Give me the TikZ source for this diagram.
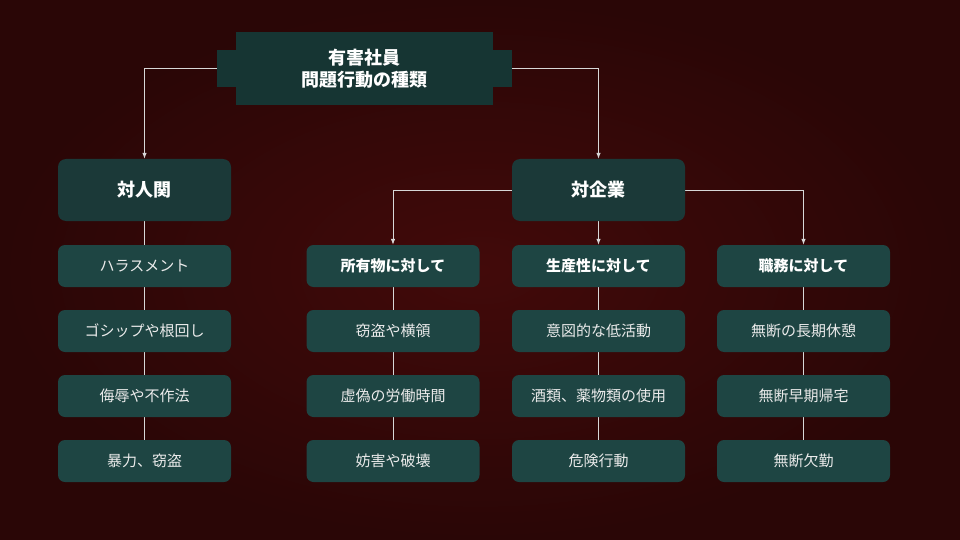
\documentclass[tikz,border=0pt]{standalone}
\usepackage{fontspec}
\setmainfont{Noto Sans CJK JP}
\usetikzlibrary{arrows.meta}
\pgfdeclarelayer{back}
\pgfdeclarelayer{wires}
\pgfsetlayers{back,wires,main}
\definecolor{wine}{RGB}{66,10,10}
\definecolor{soot}{RGB}{42,6,6}
\definecolor{tealtop}{RGB}{22,53,51}
\definecolor{tealmid}{RGB}{27,57,56}
\definecolor{tealbox}{RGB}{30,69,67}
\definecolor{linegray}{RGB}{215,215,215}
\tikzstyle{title}=[fill=tealtop, minimum width=257pt, minimum height=73pt, inner sep=0pt, align=center, text=white, font=\bfseries\fontsize{18}{22}\selectfont]
\tikzstyle{head}=[fill=tealmid, rounded corners=8pt, minimum width=173pt, minimum height=62pt, text=white, font=\bfseries\fontsize{18}{22}\selectfont]
\tikzstyle{sub}=[fill=tealbox, rounded corners=7pt, minimum width=173pt, minimum height=42pt, text=white, font=\bfseries\fontsize{15}{18}\selectfont]
\tikzstyle{item}=[fill=tealbox, rounded corners=7pt, minimum width=173pt, minimum height=42pt, text=white!92!black, font=\fontsize{15}{18}\selectfont]
\tikzstyle{wire}=[draw=linegray, line width=0.8pt]
\tikzstyle{arr}=[wire, -{Latex[length=6pt,width=4.5pt]}]

\begin{document}
\begin{tikzpicture}[x=1pt, y=-1pt]
% Backdrop
\begin{pgfonlayer}{back}
    \shade[inner color=wine, outer color=soot] (0,0) rectangle (960,540);
\end{pgfonlayer}
\useasboundingbox (0,0) rectangle (960,540);
% Title plate
    \fill[tealtop] (217,50) rectangle (512,87);
    \node[title] (title) at (364.5,68.5) {有害社員\\問題行動の種類};
% Groups
    \node[head] (rel) at (144.5,190) {対人関};
    \node[head] (corp) at (598.5,190) {対企業};
% Corporate branches
    \node[sub] (own) at (393,266) {所有物に対して};
    \node[sub] (prod) at (598.5,266) {生産性に対して};
    \node[sub] (duty) at (803.5,266) {職務に対して};
% Items
    \node[item] (rel1) at (144.5,266) {ハラスメント};
    \node[item] (rel2) at (144.5,331) {ゴシップや根回し};
    \node[item] (rel3) at (144.5,396) {侮辱や不作法};
    \node[item] (rel4) at (144.5,461) {暴力、窃盗};
    \node[item] (own1) at (393,331) {窃盗や横領};
    \node[item] (own2) at (393,396) {虚偽の労働時間};
    \node[item] (own3) at (393,461) {妨害や破壊};
    \node[item] (prod1) at (598.5,331) {意図的な低活動};
    \node[item] (prod2) at (598.5,396) {酒類、薬物類の使用};
    \node[item] (prod3) at (598.5,461) {危険行動};
    \node[item] (duty1) at (803.5,331) {無断の長期休憩};
    \node[item] (duty2) at (803.5,396) {無断早期帰宅};
    \node[item] (duty3) at (803.5,461) {無断欠勤};
% Connectors
\begin{pgfonlayer}{wires}
    \draw[arr] (title.west) -| (rel.north);
    \draw[arr] (title.east) -| (corp.north);
    \draw[arr] (corp.west) -| (own.north);
    \draw[arr] (corp.south) -- (prod.north);
    \draw[arr] (corp.east) -| (duty.north);
    \draw[wire] (rel) -- (rel1) -- (rel2) -- (rel3) -- (rel4);
    \draw[wire] (own) -- (own1) -- (own2) -- (own3);
    \draw[wire] (prod) -- (prod1) -- (prod2) -- (prod3);
    \draw[wire] (duty) -- (duty1) -- (duty2) -- (duty3);
\end{pgfonlayer}
\end{tikzpicture}
\end{document}
